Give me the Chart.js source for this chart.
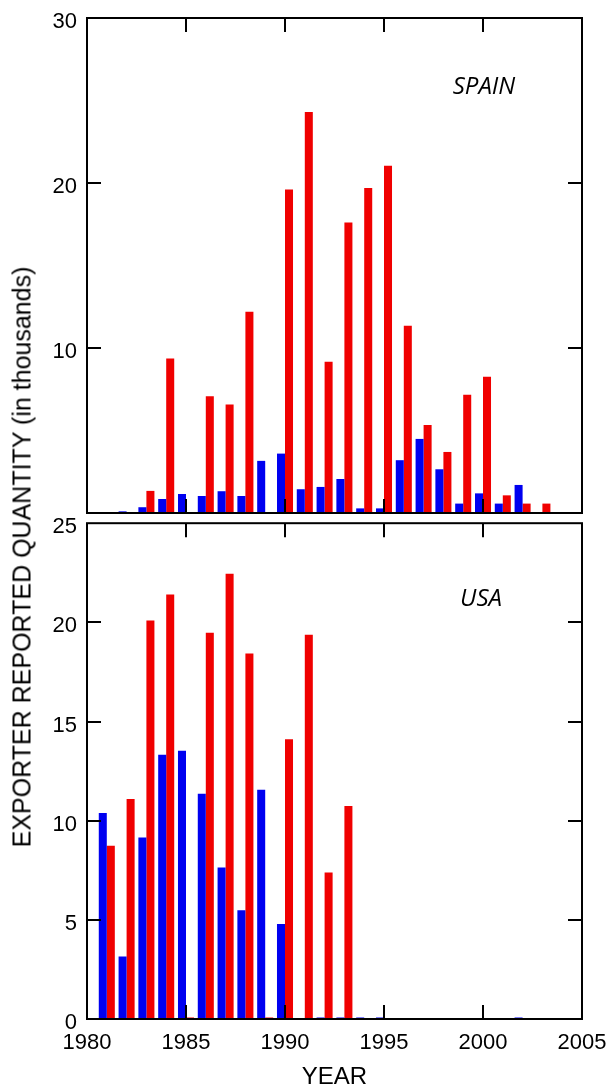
<!DOCTYPE html>
<html>
<head>
<meta charset="utf-8">
<script src="https://cdn.jsdelivr.net/npm/chart.js@4"></script>
<style>
  html, body { margin: 0; padding: 0; background: #fff; overflow: hidden; }
  #page { position: relative; width: 607px; height: 1086px; overflow: hidden; }
  canvas { position: absolute; left: 0; }
  #top-chart { top: -20px; }
  #bottom-chart { top: 500px; }
  #y-title {
    position: absolute; left: 22px; top: 557px;
    transform: translate(-50%, -50%) rotate(-90deg);
    white-space: nowrap;
    font: 25px "Liberation Sans", Arial, sans-serif;
    color: #000;
  }
</style>
</head>
<body>
<div id="page">
  <canvas id="top-chart" width="640" height="560"></canvas>
  <canvas id="bottom-chart" width="640" height="589"></canvas>
  <div id="y-title">EXPORTER REPORTED QUANTITY (in thousands)</div>
</div>
<script>
// ─── Data (thousands) ─────────────────────────────────────────────
const years = [1980, 1981, 1982, 1983, 1984, 1985, 1986, 1987, 1988, 1989, 1990, 1991, 1992,
  1993, 1994, 1995, 1996, 1997, 1998, 1999, 2000, 2001, 2002, 2003, 2004];

const spainBlue = [0, 0, 0.1, 0.35, 0.85, 1.15, 1.03, 1.32, 1.03, 3.16, 3.6, 1.44, 1.58,
  2.06, 0.28, 0.28, 3.2, 4.49, 2.65, 0.57, 1.19, 0.57, 1.7, 0.06, 0];
const spainRed = [0, 0, 0, 1.34, 9.37, 0, 7.08, 6.58, 12.2, 0.06, 19.6, 24.3, 9.17,
  17.6, 19.7, 21.05, 11.35, 5.34, 3.7, 7.16, 8.26, 1.07, 0.57, 0.57, 0];

const usaBlue = [0, 10.39, 3.15, 9.15, 13.33, 13.52, 11.36, 7.64, 5.48, 11.56, 4.79, 0, 0.08,
  0.08, 0.08, 0.08, 0, 0, 0, 0, 0, 0, 0.08, 0, 0];
const usaRed = [0, 8.74, 11.09, 20.09, 21.4, 0.08, 19.48, 22.45, 18.43, 0.08, 14.1, 19.38, 7.39,
  10.74, 0, 0, 0, 0, 0, 0, 0, 0, 0, 0, 0];

const spainTicks = [0, 10, 20, 30];
const usaTicks = [0, 5, 10, 15, 20, 25];
const yearTicks = [1980, 1985, 1990, 1995, 2000, 2005];

const BLUE = "#0000F0";
const RED = "#F00000";
const FONT = "'Liberation Sans', Arial, sans-serif";
const TICK = 14;

// ─── Plugins ──────────────────────────────────────────────────────

// box frame plus inward tick marks on all four sides
const frameTicks = {
  id: "frameTicks",
  afterDatasetsDraw(chart) {
    const { ctx, chartArea: a, scales: { x, y } } = chart;
    ctx.save();
    ctx.strokeStyle = "#000";
    ctx.lineWidth = 2;
    ctx.beginPath();
    x.ticks.forEach((t) => {
      if (t.value <= x.min || t.value >= x.max) return;
      const px = Math.round(x.getPixelForValue(t.value));
      ctx.moveTo(px, a.bottom); ctx.lineTo(px, a.bottom - TICK);
      ctx.moveTo(px, a.top); ctx.lineTo(px, a.top + TICK);
    });
    y.ticks.forEach((t) => {
      if (t.value <= y.min || t.value >= y.max) return;
      const py = Math.round(y.getPixelForValue(t.value));
      ctx.moveTo(a.left, py); ctx.lineTo(a.left + TICK, py);
      ctx.moveTo(a.right, py); ctx.lineTo(a.right - TICK, py);
    });
    ctx.stroke();
    ctx.strokeRect(a.left, a.top, a.width, a.height);
    ctx.restore();
  },
};

// italic country name inside the panel
const panelLabel = {
  id: "panelLabel",
  afterDraw(chart, args, opts) {
    const { ctx, scales: { x, y } } = chart;
    ctx.save();
    ctx.font = "italic 24px 'Open Sans', sans-serif";
    ctx.fillStyle = "#000";
    ctx.textAlign = "center";
    ctx.textBaseline = "middle";
    ctx.fillText(opts.text, x.getPixelForValue(opts.x), y.getPixelForValue(opts.y));
    ctx.restore();
  },
};

// ─── Chart builder ────────────────────────────────────────────────

function makePanel(canvasId, blue, red, yMax, yTicks, label, bottom) {
  const toPoints = (vals) => years.map((yr, i) => ({ x: yr, y: vals[i] }));
  const tickFont = { family: FONT, size: 22 };

  return new Chart(document.getElementById(canvasId), {
    type: "bar",
    data: {
      datasets: [
        { data: toPoints(blue), backgroundColor: BLUE },
        { data: toPoints(red), backgroundColor: RED },
      ],
    },
    options: {
      responsive: false,
      animation: false,
      layout: {
        padding: bottom
          ? { top: 23, right: 58, bottom: 0, left: 0 }
          : { top: 38, right: 58, bottom: 27, left: 0 },
      },
      datasets: { bar: { categoryPercentage: 0.81, barPercentage: 1.0, borderWidth: 0 } },
      plugins: {
        legend: { display: false },
        tooltip: { enabled: false },
        panelLabel: label,
      },
      scales: {
        x: {
          type: "linear",
          min: 1980,
          max: 2005,
          offset: false,
          afterBuildTicks: (s) => { s.ticks = yearTicks.map((v) => ({ value: v })); },
          afterFit: (s) => { s.height = bottom ? 70 : 0; },
          grid: { display: false, drawTicks: false },
          border: { display: false },
          ticks: {
            display: bottom,
            color: "#000",
            font: tickFont,
            padding: 11,
            maxRotation: 0,
            callback: (v) => String(v),
          },
          title: {
            display: bottom,
            text: "YEAR",
            color: "#000",
            font: { family: FONT, size: 24, lineHeight: 1 },
            padding: 0,
          },
        },
        y: {
          min: 0,
          max: yMax,
          afterBuildTicks: (s) => { s.ticks = yTicks.map((v) => ({ value: v })); },
          afterFit: (s) => { s.width = 87; },
          grid: { display: false, drawTicks: false },
          border: { display: false },
          ticks: {
            color: "#000",
            font: tickFont,
            padding: 10,
            labelOffset: 4,
            callback: (v) => (!bottom && v === 0 ? "" : String(v)),
          },
        },
      },
    },
    plugins: [frameTicks, panelLabel],
  });
}

makePanel("top-chart", spainBlue, spainRed, 30, spainTicks,
  { text: "SPAIN", x: 2000.05, y: 25.8 }, false);
makePanel("bottom-chart", usaBlue, usaRed, 25, usaTicks,
  { text: "USA", x: 1999.9, y: 21.15 }, true);
</script>
</body>
</html>
